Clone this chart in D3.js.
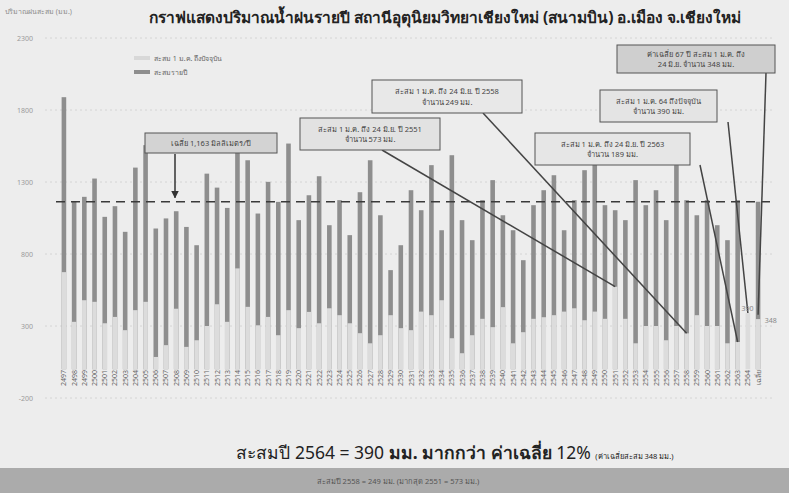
<!DOCTYPE html>
<html>
<head>
<meta charset="utf-8">
<script src="https://cdn.jsdelivr.net/npm/d3@7"></script>
<style>
  body { margin: 0; background: #eeeeee; }
  svg { display: block; font-family: "Noto Sans", "DejaVu Sans", sans-serif; }
</style>
</head>
<body>
<div id="canvas"></div>
<script>
"use strict";

/* Data: years (Thai B.E.) + average column */
let years = [];
for (let y = 2497; y <= 2564; y = y + 1) { years.push(String(y)); }
let categories = years.concat(["เฉลี่ย"]);

// annual rainfall (mm) - dark bars
let annualRain = [1889, 1162, 1197, 1324, 1058, 1132, 954, 1400, 1556, 977,
  1047, 1097, 988, 861, 1358, 1261, 1120, 1567, 1451, 1081,
  1301, 1162, 1567, 1035, 1208, 1340, 1000, 1174, 931, 1229,
  1451, 1069, 688, 861, 1243, 1104, 1417, 965, 1486, 1035,
  896, 1174, 1313, 1069, 965, 757, 1139, 1243, 1347, 965,
  1174, 1382, 1451, 1139, 1104, 1035, 1313, 1139, 1243, 1035,
  1417, 1174, 1069, 1174, 1000, 896, 1174, null, 1163];

// cumulative 1 Jan - 24 Jun (mm) - light bars
let cumRain = [674, 329, 479, 468, 319, 363, 271, 410, 468, 85,
  167, 420, 155, 201, 300, 451, 329, 700, 433, 305,
  363, 236, 410, 285, 398, 319, 423, 375, 319, 250,
  180, 236, 375, 285, 271, 400, 375, 479, 215, 111,
  236, 350, 292, 431, 180, 257, 350, 361, 375, 400,
  423, 340, 400, 350, 573, 350, 180, 300, 300, 201,
  300, 249, 375, 300, 300, 180, 189, 390, 348];

let avgAnnual = 1163;
let yTicks = [-200, 300, 800, 1300, 1800, 2300];

/* Drawing config */
let svgWidth = 789;
let svgHeight = 493;

let svg = d3.select("#canvas")
  .append("svg")
  .attr("width", svgWidth)
  .attr("height", svgHeight);

svg.append("rect")
  .attr("width", svgWidth)
  .attr("height", svgHeight)
  .attr("fill", "#ededed");

let xScale = d3.scaleBand()
  .domain(categories)
  .range([56, 766])
  .padding(0.55);

let yScale = d3.scaleLinear()
  .domain([-200, 2300])
  .range([398, 38]);

/* grid lines */
svg.selectAll("line.grid")
  .data(yTicks)
  .enter()
  .append("line")
  .attr("x1", 45)
  .attr("x2", 775)
  .attr("y1", function (d) { return yScale(d); })
  .attr("y2", function (d) { return yScale(d); })
  .attr("stroke", "#d4d4d4")
  .attr("stroke-width", 1)
  .attr("stroke-dasharray", "2,3");

/* y tick numbers */
svg.selectAll("text.ytick")
  .data(yTicks)
  .enter()
  .append("text")
  .attr("x", 33)
  .attr("y", function (d) { return yScale(d) + 3; })
  .attr("text-anchor", "end")
  .attr("font-size", "7px")
  .attr("fill", "#9a9a9a")
  .text(function (d) { return String(d); });

svg.append("text")
  .attr("x", 5)
  .attr("y", 14)
  .attr("font-size", "7px")
  .attr("fill", "#8a8a8a")
  .text("ปริมาณฝนสะสม (มม.)");

/* dark bars = annual */
svg.selectAll("rect.annual")
  .data(categories)
  .enter()
  .filter(function (d, i) { return annualRain[i] !== null; })
  .append("rect")
  .attr("x", function (d) { return xScale(d); })
  .attr("width", xScale.bandwidth())
  .attr("y", function (d) { return yScale(annualRain[categories.indexOf(d)]); })
  .attr("height", function (d) { return yScale(0) - yScale(annualRain[categories.indexOf(d)]); })
  .attr("fill", "#8e8e8e");

/* light bars = cumulative to date */
svg.selectAll("rect.cum")
  .data(categories)
  .enter()
  .append("rect")
  .attr("x", function (d) { return xScale(d); })
  .attr("width", xScale.bandwidth())
  .attr("y", function (d, i) { return yScale(cumRain[i]); })
  .attr("height", function (d, i) { return yScale(0) - yScale(cumRain[i]); })
  .attr("fill", "#dcdcdc");

/* x labels, rotated */
svg.selectAll("text.xlab")
  .data(categories)
  .enter()
  .append("text")
  .attr("transform", function (d) {
    return "translate(" + (xScale(d) + xScale.bandwidth() / 2 + 2.5) + ",370) rotate(-90)";
  })
  .attr("text-anchor", "end")
  .attr("font-size", "7px")
  .attr("fill", "#666")
  .text(function (d) { return d; });

/* average dashed line */
svg.append("line")
  .attr("x1", 56)
  .attr("x2", 770)
  .attr("y1", yScale(avgAnnual))
  .attr("y2", yScale(avgAnnual))
  .attr("stroke", "#3a3a3a")
  .attr("stroke-width", 1.3)
  .attr("stroke-dasharray", "9,6");

/* legend */
svg.append("rect").attr("x", 134).attr("y", 56).attr("width", 16).attr("height", 4).attr("fill", "#d8d8d8");
svg.append("text").attr("x", 154).attr("y", 61).attr("font-size", "7px").attr("fill", "#666")
  .text("สะสม 1 ม.ค. ถึงปัจจุบัน");
svg.append("rect").attr("x", 134).attr("y", 70).attr("width", 16).attr("height", 4).attr("fill", "#8e8e8e");
svg.append("text").attr("x", 154).attr("y", 75).attr("font-size", "7px").attr("fill", "#666")
  .text("สะสมรายปี");

/* title */
svg.append("text")
  .attr("x", 445)
  .attr("y", 23)
  .attr("text-anchor", "middle")
  .attr("font-size", "15.5px")
  .attr("font-weight", "bold")
  .attr("fill", "#222")
  .text("กราฟแสดงปริมาณน้ำฝนรายปี สถานีอุตุนิยมวิทยาเชียงใหม่ (สนามบิน) อ.เมือง จ.เชียงใหม่");

/* annotation boxes */
function noteBox(x, y, w, h, lines, fill) {
  svg.append("rect")
    .attr("x", x).attr("y", y).attr("width", w).attr("height", h)
    .attr("fill", fill).attr("stroke", "#555").attr("stroke-width", 1);
  for (let i = 0; i < lines.length; i = i + 1) {
    svg.append("text")
      .attr("x", x + w / 2)
      .attr("y", y + h / (lines.length + 1) * (i + 1) + 3)
      .attr("text-anchor", "middle")
      .attr("font-size", "7.5px")
      .attr("fill", "#444")
      .text(lines[i]);
  }
}

function pointer(x1, y1, cat, value) {
  svg.append("line")
    .attr("x1", x1).attr("y1", y1)
    .attr("x2", xScale(cat) + xScale.bandwidth() / 2)
    .attr("y2", yScale(value))
    .attr("stroke", "#444")
    .attr("stroke-width", 1.5);
}

// average box + arrow
noteBox(145, 133, 132, 20, ["เฉลี่ย 1,163 มิลลิเมตร/ปี"], "#d3d3d3");
svg.append("defs").append("marker")
  .attr("id", "arrow").attr("viewBox", "0 0 10 10").attr("refX", 9).attr("refY", 5)
  .attr("markerWidth", 5).attr("markerHeight", 5).attr("orient", "auto")
  .append("path").attr("d", "M0,0 L10,5 L0,10 z").attr("fill", "#333");
svg.append("line")
  .attr("x1", 175).attr("y1", 154)
  .attr("x2", 175).attr("y2", yScale(avgAnnual) - 4)
  .attr("stroke", "#333").attr("stroke-width", 1.5)
  .attr("marker-end", "url(#arrow)");

pointer(382, 150, "2551", cumRain[categories.indexOf("2551")]);
noteBox(300, 118, 140, 32, ["สะสม 1 ม.ค. ถึง 24 มิ.ย. ปี 2551", "จำนวน 573 มม."], "#e2e2e2");

pointer(483, 113, "2558", cumRain[categories.indexOf("2558")]);
noteBox(372, 80, 150, 33, ["สะสม 1 ม.ค. ถึง 24 มิ.ย. ปี 2558", "จำนวน 249 มม."], "#e8e8e8");

pointer(700, 165, "2563", cumRain[categories.indexOf("2563")]);
noteBox(535, 133, 155, 32, ["สะสม 1 ม.ค. ถึง 24 มิ.ย. ปี 2563", "จำนวน 189 มม."], "#e6e6e6");

pointer(728, 122, "2564", cumRain[categories.indexOf("2564")]);
noteBox(600, 90, 117, 32, ["สะสม 1 ม.ค. 64 ถึงปัจจุบัน", "จำนวน 390 มม."], "#e4e4e4");

pointer(766, 73, "เฉลี่ย", cumRain[categories.indexOf("เฉลี่ย")] + 30);
noteBox(617, 45, 158, 28, ["ค่าเฉลี่ย 67 ปี สะสม 1 ม.ค. ถึง", "24 มิ.ย. จำนวน 348 มม."], "#cfcfcf");

/* value labels next to last bars */
svg.append("text")
  .attr("x", xScale("2564") - 4).attr("y", yScale(390) - 2)
  .attr("font-size", "7px").attr("fill", "#888").text("390");
svg.append("text")
  .attr("x", xScale("เฉลี่ย") + 9).attr("y", yScale(348) + 4)
  .attr("font-size", "7px").attr("fill", "#888").text("348");

/* summary text */
let summary = svg.append("text")
  .attr("x", 455)
  .attr("y", 459)
  .attr("text-anchor", "middle")
  .attr("fill", "#222");
summary.append("tspan").attr("font-size", "17.5px").text("สะสมปี 2564 = 390 ");
summary.append("tspan").attr("font-size", "17.5px").attr("font-weight", "bold").text("มม. มากกว่า ค่าเฉลี่ย ");
summary.append("tspan").attr("font-size", "17.5px").text("12% ");
summary.append("tspan").attr("font-size", "7.5px").text("(ค่าเฉลี่ยสะสม 348 มม.)");

/* bottom band */
svg.append("rect")
  .attr("x", 0).attr("y", 468).attr("width", svgWidth).attr("height", 25)
  .attr("fill", "#ababab");
svg.append("text")
  .attr("x", 398).attr("y", 484)
  .attr("text-anchor", "middle")
  .attr("font-size", "7.5px")
  .attr("fill", "#555")
  .text("สะสมปี 2558 = 249 มม. (มากสุด 2551 = 573 มม.)");
</script>
</body>
</html>
